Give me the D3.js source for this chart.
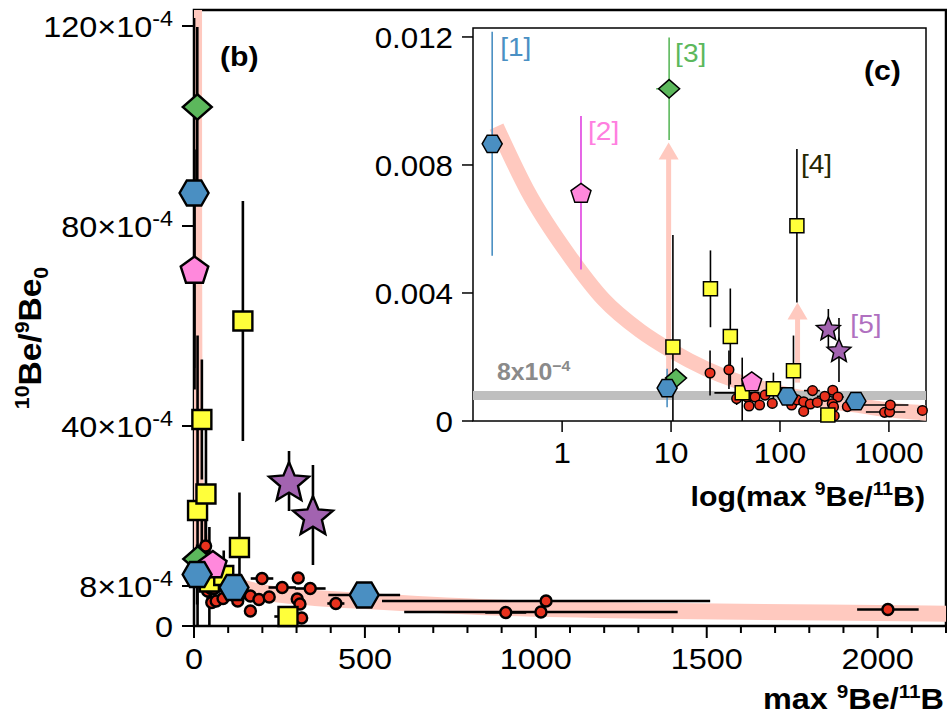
<!DOCTYPE html>
<html>
<head>
<meta charset="utf-8">
<script src="https://cdn.jsdelivr.net/npm/d3@7"></script>
<style>
  body { margin: 0; background: #fff; }
  svg { display: block; font-family: "Liberation Sans", Arial, Helvetica, sans-serif; }
</style>
</head>
<body>
<div id="chart"></div>
<script>
// ---- data ----
// red circles
const circleX = [22.8, 34, 40, 50, 52, 59, 65, 73, 85, 100, 128, 143, 165, 165, 190, 199, 220, 258, 305, 340, 302, 310, 315, 415, 912, 1015, 1030, 2030];
const circleY = [0.0015, 0.0016, 0.0007, 0.00075, 0.00047, 0.00075, 0.0005, 0.00081, 0.00055, 0.0009, 0.0005, 0.00066, 0.0006, 0.0003, 0.00053, 0.00095, 0.00058, 0.00077, 0.00096, 0.00075, 0.00054, 0.00044, 0.00016, 0.00045, 0.00027, 0.00028, 0.0005, 0.00033];
const circleXErr = [0, 0, 0, 0, 0, 0, 0, 0, 0, 0, 0, 0, 0, 0, 0, 33, 0, 40, 0, 45, 0, 0, 12, 25, 60, 400, 480, 90];
const circleYErr = [0.0007, 0.0006, 0.0002, 0, 0, 0, 0, 0, 0, 0, 0, 0, 0, 0, 0, 0.0001, 0, 0.0001, 0, 0.0001, 0, 0, 0, 0, 0, 0, 0, 0];

// blue hexagons
const hexX = [0.228, 9.2, 117, 498];
const hexY = [0.00866, 0.00103, 0.00077, 0.00062];
const hexXErr = [0, 0, 0, 105];
const hexYErr = [0.0035, 0.0006, 0, 0];

// green diamonds
const diamondX = [9.6, 11.1];
const diamondY = [0.01038, 0.00134];
const diamondXErr = [2.3, 0];
const diamondYErr = [0.0016, 0.0002];

// pink pentagons
const pentX = [1.49, 55];
const pentY = [0.00713, 0.00124];
const pentXErr = [0, 0];
const pentYErr = [0.0024, 0];

// yellow squares
const squareX = [10.4, 23, 35, 45, 87, 133, 143, 275];
const squareY = [0.00231, 0.00413, 0.00264, 0.00088, 0.00101, 0.00157, 0.0061, 0.00019];
const squareXErr = [0, 0, 0, 20, 0, 12, 0, 40];
const squareYErr = [0.0035, 0.0012, 0.0015, 0.0011, 0.0005, 0.0011, 0.0024, 0];

// purple stars
const starX = [278, 348];
const starY = [0.0029, 0.00222];
const starXErr = [0, 0];
const starYErr = [0.0006, 0.001];

// model curve (read along the band)
const curveX = [0.08, 0.15, 0.25, 0.48, 1.2, 2.4, 5.2, 10, 21, 40, 86, 150, 355, 500, 836, 1400, 2000, 2300];
const curveY = [0.0135, 0.0113, 0.0092, 0.0072, 0.0051, 0.0038, 0.00282, 0.0022, 0.00163, 0.00125, 0.00094, 0.00075, 0.00056, 0.0005, 0.00038, 0.0003, 0.00026, 0.00024];

// lower-limit arrows in the inset
const arrowX = [9.5, 145];
const arrowFrom = [0.0013, 0.0012];
const arrowTo = [0.0087, 0.0037];

// ticks
const mainXTicks = [0, 500, 1000, 1500, 2000];
const mainYTicks = [0, 0.0008, 0.004, 0.008, 0.012];
const mainYMantissa = ["0", "8", "40", "80", "120"];
const insetXTicks = [1, 10, 100, 1000];
const insetYTicks = [0, 0.004, 0.008, 0.012];
const insetYLabels = ["0", "0.004", "0.008", "0.012"];
const limitLine = 0.0008;
const insetLabels = ["[1]", "[2]", "[3]", "[4]", "[5]"];

// ---- setup ----
const width = 947, height = 715;
const stretch = 1.08; // the original lettering is a little wider than Liberation Sans
const svg = d3.select("#chart").append("svg")
  .attr("width", width).attr("height", height);

const series = [
  { kind: "circle", xs: circleX, ys: circleY, xe: circleXErr, ye: circleYErr, fill: "#e8321e", bar: "#000" },
  { kind: "square", xs: squareX, ys: squareY, xe: squareXErr, ye: squareYErr, fill: "#ffff3a", bar: "#000" },
  { kind: "diamond", xs: diamondX, ys: diamondY, xe: diamondXErr, ye: diamondYErr, fill: "#5cb85c", bar: "#5cb85c" },
  { kind: "pent", xs: pentX, ys: pentY, xe: pentXErr, ye: pentYErr, fill: "#ff88dc", bar: "#e040e0" },
  { kind: "hex", xs: hexX, ys: hexY, xe: hexXErr, ye: hexYErr, fill: "#4a8fc2", bar: "#4a8fc2" },
  { kind: "star", xs: starX, ys: starY, xe: starXErr, ye: starYErr, fill: "#a263b0", bar: "#000" },
];

// marker outline builder
const shape = (kind, s) => {
  let pts;
  switch (kind) {
    case "hex":
      pts = d3.range(6).map((i) => [s * Math.cos(i * Math.PI / 3), s * Math.sin(i * Math.PI / 3)]);
      break;
    case "diamond":
      pts = [[0, -s * 0.88], [s, 0], [0, s * 0.88], [-s, 0]];
      break;
    case "pent":
      pts = d3.range(5).map((i) => {
        const a = -Math.PI / 2 + i * 2 * Math.PI / 5;
        return [s * Math.cos(a), s * Math.sin(a) + s * 0.1];
      });
      break;
    case "square":
      pts = [[-s / 2, -s / 2], [s / 2, -s / 2], [s / 2, s / 2], [-s / 2, s / 2]];
      break;
    case "star":
      pts = d3.range(10).map((i) => {
        const a = -Math.PI / 2 + i * Math.PI / 5;
        const r = i % 2 ? s * 0.45 : s;
        return [r * Math.cos(a), r * Math.sin(a) + s * 0.1];
      });
      break;
    default:
      return `M${s},0A${s},${s} 0 1 1 ${-s},0A${s},${s} 0 1 1 ${s},0Z`;
  }
  return "M" + pts.map((p) => p.join(",")).join("L") + "Z";
};

// superscript / subscript text helper
const rich = (sel, parts, size, supScale = 0.64) => {
  let shift = 0;
  parts.forEach(([t, mode]) => {
    const target = mode === "sup" ? -size * 0.38 : mode === "sub" ? size * 0.22 : 0;
    sel.append("tspan")
      .attr("dy", target - shift)
      .attr("font-size", mode ? size * supScale : size)
      .text(t);
    shift = target;
  });
};

// text placed with a slight horizontal stretch
const label = (g, x, y, rot = 0) =>
  g.append("text")
    .attr("transform", `translate(${x},${y}) rotate(${rot}) scale(${stretch},1)`);

const drawPanel = (g, x, y, clipId, opt) => {
  const xmin = x.domain()[0];
  const plot = g.append("g").attr("clip-path", `url(#${clipId})`);

  // model band
  const curvePts = curveX.map((v, i) => [v, curveY[i]]).filter((d) => d[0] >= opt.curveMin);
  plot.append("path")
    .datum(curvePts)
    .attr("d", d3.line().x((d) => x(d[0])).y((d) => y(d[1])).curve(d3.curveMonotoneX))
    .attr("fill", "none")
    .attr("stroke", "#ffc9bf")
    .attr("stroke-width", opt.band);

  if (opt.inset) {
    // 8x10^-4 reference line
    plot.append("line")
      .attr("x1", x.range()[0]).attr("x2", x.range()[1])
      .attr("y1", y(limitLine)).attr("y2", y(limitLine))
      .attr("stroke", "#bfbfbf").attr("stroke-width", 9);

    // lower limit arrows
    arrowX.forEach((v, i) => {
      const ax = x(v), top = y(arrowTo[i]);
      plot.append("line")
        .attr("x1", ax).attr("x2", ax)
        .attr("y1", y(arrowFrom[i])).attr("y2", top + 12)
        .attr("stroke", "#ffc9bf").attr("stroke-width", 5);
      plot.append("path")
        .attr("d", `M${ax},${top}L${ax + 10},${top + 17}L${ax - 10},${top + 17}Z`)
        .attr("fill", "#ffc9bf");
    });
  }

  // error bars
  series.forEach((s) => {
    const color = opt.inset ? s.bar : "#000";
    s.xs.forEach((v, i) => {
      const cx = x(v), cy = y(s.ys[i]);
      if (s.ye[i] > 0) {
        plot.append("line")
          .attr("x1", cx).attr("x2", cx)
          .attr("y1", y(s.ys[i] - s.ye[i])).attr("y2", y(s.ys[i] + s.ye[i]))
          .attr("stroke", color).attr("stroke-width", opt.bar);
      }
      if (s.xe[i] > 0) {
        plot.append("line")
          .attr("x1", x(Math.max(xmin, v - s.xe[i]))).attr("x2", x(v + s.xe[i]))
          .attr("y1", cy).attr("y2", cy)
          .attr("stroke", color).attr("stroke-width", opt.bar);
      }
    });
  });

  // markers (not clipped, they sit on the axis like in the original)
  series.forEach((s) => {
    g.selectAll(null)
      .data(s.xs.map((v, i) => [v, s.ys[i]]))
      .join("path")
      .attr("transform", (d) => `translate(${x(d[0])},${y(d[1])})`)
      .attr("d", shape(s.kind, opt.size[s.kind]))
      .attr("fill", s.fill)
      .attr("stroke", "#000")
      .attr("stroke-width", opt.stroke)
      .attr("stroke-linejoin", "miter");
  });
};

const defs = svg.append("defs");

// ---- main panel (b) ----
const x = d3.scaleLinear().domain([0, 2200]).range([194, 946]);
const y = d3.scaleLinear().domain([0, 0.01232]).range([626, 10]);
defs.append("clipPath").attr("id", "clip-main").append("rect")
  .attr("x", 194).attr("y", 10).attr("width", 752).attr("height", 616);

const main = svg.append("g");

main.append("rect")
  .attr("x", 194).attr("y", 10).attr("width", 752).attr("height", 616)
  .attr("fill", "none").attr("stroke", "#000").attr("stroke-width", 2.5);

// x ticks
main.selectAll(".xminor").data(d3.range(0, 2201, 100)).join("line")
  .attr("x1", (d) => x(d)).attr("x2", (d) => x(d))
  .attr("y1", 626).attr("y2", (d) => (mainXTicks.includes(d) ? 638 : 633))
  .attr("stroke", "#000").attr("stroke-width", 2);
mainXTicks.forEach((v) => {
  label(main, x(v), 669)
    .attr("text-anchor", "middle").attr("font-size", 30)
    .text(v);
});

// y ticks
main.selectAll(".ytick").data(mainYTicks).join("line")
  .attr("x1", 182).attr("x2", 194)
  .attr("y1", (d) => y(d)).attr("y2", (d) => y(d))
  .attr("stroke", "#000").attr("stroke-width", 2);
mainYTicks.forEach((v, i) => {
  const t = label(main, 173, y(v) + 11)
    .attr("text-anchor", "end").attr("font-size", 30);
  if (v === 0) t.text(mainYMantissa[i]);
  else rich(t, [[mainYMantissa[i] + "\u00d710"], ["-4", "sup"]], 30, 0.72);
});

drawPanel(main, x, y, "clip-main", {
  inset: false, curveMin: 0, band: 16, bar: 2.6, stroke: 2.4,
  size: { circle: 5.5, square: 19, diamond: 14.5, pent: 14.5, hex: 14.5, star: 21 },
});

label(main, 220, 66)
  .attr("font-size", 28).attr("font-weight", "bold")
  .text("(b)");

// axis titles
const yTitle = label(main, 41, 338, -90)
  .attr("text-anchor", "middle").attr("font-weight", "bold").attr("font-size", 31);
rich(yTitle, [["10", "sup"], ["Be/"], ["9", "sup"], ["Be"], ["0", "sub"]], 31);

const xTitle = label(main, 944, 709)
  .attr("text-anchor", "end").attr("font-weight", "bold").attr("font-size", 30);
rich(xTitle, [["max "], ["9", "sup"], ["Be/"], ["11", "sup"], ["B"]], 30);

// ---- inset panel (c) ----
const xi = d3.scaleLog().domain([0.152, 2190]).range([473, 926]);
const yi = d3.scaleLinear().domain([0, 0.01228]).range([421, 28]);
defs.append("clipPath").attr("id", "clip-inset").append("rect")
  .attr("x", 473).attr("y", 28).attr("width", 453).attr("height", 393);

const inset = svg.append("g");
inset.append("rect")
  .attr("x", 473).attr("y", 28).attr("width", 453).attr("height", 393)
  .attr("fill", "#fff");

inset.append("rect")
  .attr("x", 473).attr("y", 28).attr("width", 453).attr("height", 393)
  .attr("fill", "none").attr("stroke", "#000").attr("stroke-width", 1.5);

drawPanel(inset, xi, yi, "clip-inset", {
  inset: true, curveMin: 0.25, band: 15, bar: 1.6, stroke: 1.5,
  size: { circle: 4.8, square: 14, diamond: 10.5, pent: 10.5, hex: 10, star: 12.5 },
});

inset.selectAll(".ixt").data(insetXTicks).join("line")
  .attr("x1", (d) => xi(d)).attr("x2", (d) => xi(d))
  .attr("y1", 421).attr("y2", 432)
  .attr("stroke", "#000").attr("stroke-width", 1.5);
insetXTicks.forEach((v) => {
  label(inset, xi(v), 463)
    .attr("text-anchor", "middle").attr("font-size", 29)
    .text(v);
});

inset.selectAll(".iyt").data(insetYTicks).join("line")
  .attr("x1", 462).attr("x2", 473)
  .attr("y1", (d) => yi(d)).attr("y2", (d) => yi(d))
  .attr("stroke", "#000").attr("stroke-width", 1.5);
insetYTicks.forEach((v, i) => {
  label(inset, 453, yi(v) + 11)
    .attr("text-anchor", "end").attr("font-size", 29)
    .text(insetYLabels[i]);
});

const limText = label(inset, 497, 380)
  .attr("font-size", 23).attr("font-weight", "bold").attr("fill", "#8a8a8a");
rich(limText, [["8x10"], ["\u22124", "sup"]], 23);

label(inset, 864, 80)
  .attr("font-size", 28).attr("font-weight", "bold")
  .text("(c)");

const ixTitle = label(inset, 925, 506)
  .attr("text-anchor", "end").attr("font-weight", "bold").attr("font-size", 28);
rich(ixTitle, [["log(max "], ["9", "sup"], ["Be/"], ["11", "sup"], ["B)"]], 28);

// reference labels, placed next to the top of each point's error bar
const labelRefs = [
  { s: hexX, y: hexY, e: hexYErr, i: 0, color: "#4a90c4", dx: 8 },
  { s: pentX, y: pentY, e: pentYErr, i: 0, color: "#ff7fe0", dx: 7 },
  { s: diamondX, y: diamondY, e: diamondYErr, i: 0, color: "#5cb85c", dx: 6 },
  { s: squareX, y: squareY, e: squareYErr, i: 6, color: "#262600", dx: 4 },
  { s: starX, y: starY, e: starYErr, i: 0, color: "#b070c0", dx: 22 },
];
labelRefs.forEach((r, k) => {
  label(inset, xi(r.s[r.i]) + r.dx, yi(r.y[r.i] + r.e[r.i]) + 24)
    .attr("font-size", 26)
    .attr("fill", r.color)
    .text(insetLabels[k]);
});
</script>
</body>
</html>
